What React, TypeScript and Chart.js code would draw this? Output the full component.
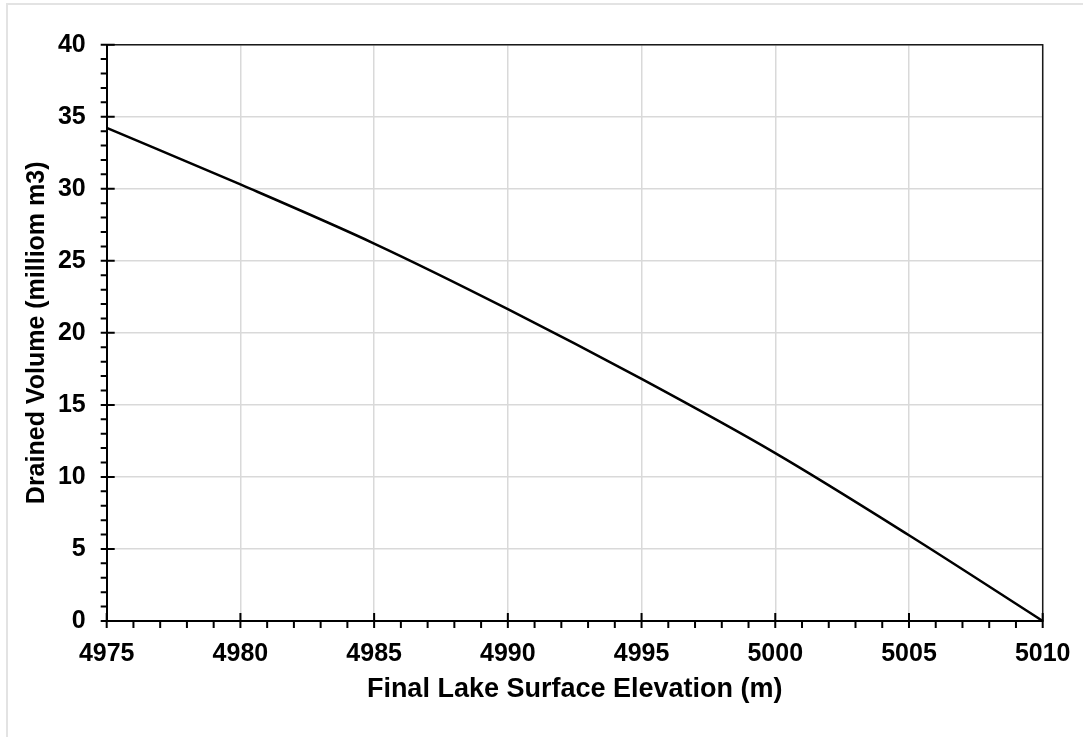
import React, { useEffect, useRef } from "react";
import { Chart, registerables } from "chart.js";

Chart.register(...registerables);

const elevations = [4975, 4980, 4985, 4990, 4995, 5000, 5005, 5010];
const volumes = [34.23, 30.3, 26.2, 21.65, 16.8, 11.65, 5.95, 0];
const xTitle = "Final Lake Surface Elevation (m)";
const yTitle = "Drained Volume (milliom m3)";
const xMin = 4975;
const xMax = 5010;
const yMin = 0;
const yMax = 40;
const majorStep = 5;
const minorStep = 1;

const FONT = "'Liberation Sans', Arial, sans-serif";

const tickPlugin = {
  id: "excelTicks",
  afterDraw(chart: any) {
    const { ctx, chartArea } = chart;
    const xs = chart.scales.x;
    const ys = chart.scales.y;
    ctx.save();
    ctx.strokeStyle = "#1a1a1a";
    ctx.lineWidth = 1.5;
    ctx.beginPath();
    ctx.moveTo(chartArea.left, chartArea.top);
    ctx.lineTo(chartArea.right, chartArea.top);
    ctx.lineTo(chartArea.right, chartArea.bottom);
    ctx.stroke();
    ctx.strokeStyle = "#000";
    ctx.lineWidth = 2;
    ctx.beginPath();
    for (let v = xMin; v <= xMax + 1e-9; v += minorStep) {
      const px = xs.getPixelForValue(v);
      const major = Math.abs(v % majorStep) < 1e-9;
      ctx.moveTo(px, chartArea.bottom + 7);
      ctx.lineTo(px, major ? chartArea.bottom - 8 : chartArea.bottom);
    }
    for (let v = yMin; v <= yMax + 1e-9; v += minorStep) {
      const py = ys.getPixelForValue(v);
      const major = Math.abs(v % majorStep) < 1e-9;
      ctx.moveTo(chartArea.left - 6, py);
      ctx.lineTo(major ? chartArea.left + 8 : chartArea.left, py);
    }
    ctx.stroke();
    ctx.restore();
  },
};

export default function App() {
  const ref = useRef<HTMLCanvasElement | null>(null);
  useEffect(() => {
    if (!ref.current) return;
    const chart = new Chart(ref.current, {
      type: "line",
      data: {
        datasets: [
          {
            data: elevations.map((x, i) => ({ x, y: volumes[i] })),
            borderColor: "#000",
            borderWidth: 2.5,
            pointRadius: 0,
            cubicInterpolationMode: "monotone",
            fill: false,
          },
        ],
      },
      options: {
        animation: false,
        responsive: false,
        maintainAspectRatio: false,
        layout: { padding: { left: 0, top: 44.7, right: 40.3, bottom: 0 } },
        plugins: { legend: { display: false }, tooltip: { enabled: false } },
        scales: {
          x: {
            type: "linear",
            min: xMin,
            max: xMax,
            ticks: {
              stepSize: majorStep,
              color: "#000",
              font: { family: FONT, size: 25, weight: "bold" },
              padding: 18,
              maxRotation: 0,
              callback: (v: any) => String(v),
            },
            grid: { color: "#d9d9d9", lineWidth: 1.5, drawTicks: false },
            border: { color: "#000", width: 2 },
            title: {
              display: true,
              text: xTitle,
              color: "#000",
              font: { family: FONT, size: 27, weight: "bold" },
              padding: { top: 0, bottom: 30.8 },
            },
            afterFit: (s: any) => {
              s.height = 116;
              s.paddingLeft = 0;
              s.paddingRight = 0;
            },
          },
          y: {
            type: "linear",
            min: yMin,
            max: yMax,
            ticks: {
              stepSize: majorStep,
              color: "#000",
              font: { family: FONT, size: 25, weight: "bold" },
              padding: 21,
              callback: (v: any) => String(v),
            },
            grid: { color: "#d9d9d9", lineWidth: 1.5, drawTicks: false },
            border: { color: "#000", width: 2 },
            title: {
              display: true,
              text: yTitle,
              color: "#000",
              font: { family: FONT, size: 25, weight: "bold" },
              padding: { top: 22, bottom: 0 },
            },
            afterFit: (s: any) => {
              s.width = 106.7;
              s.paddingTop = 0;
              s.paddingBottom = 0;
            },
          },
        },
      },
      plugins: [tickPlugin],
    } as any);
    return () => chart.destroy();
  }, []);
  return (
    <div style={{ position: "absolute", left: 0, top: 0, width: 1083, height: 737, background: "#fff", overflow: "hidden" }}>
      <div
        style={{
          position: "absolute",
          left: 6,
          top: 3,
          width: 1200,
          height: 800,
          border: "2px solid #e3e3e3",
        }}
      />
      <canvas ref={ref} width={1083} height={737} style={{ position: "absolute", left: 0, top: 0, width: 1083, height: 737 }} />
    </div>
  );
}
